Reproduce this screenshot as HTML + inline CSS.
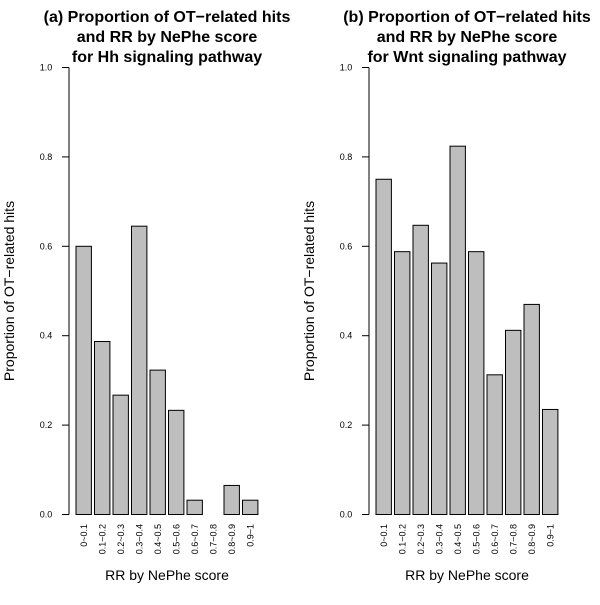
<!DOCTYPE html>
<html><head><meta charset="utf-8"><style>
body{margin:0;background:#fff}
svg{font-family:"Liberation Sans",sans-serif}
</style></head><body>
<svg id="c" width="600" height="600" xmlns="http://www.w3.org/2000/svg"></svg>
<script>
const categories=["0~0.1","0.1~0.2","0.2~0.3","0.3~0.4","0.4~0.5","0.5~0.6","0.6~0.7","0.7~0.8","0.8~0.9","0.9~1"];
const hhValues=[0.6,0.387,0.267,0.645,0.323,0.233,0.032,0,0.065,0.032];
const wntValues=[0.75,0.588,0.647,0.5625,0.824,0.588,0.3125,0.412,0.47,0.235];
const yTicks=["0.0","0.2","0.4","0.6","0.8","1.0"];
const titlesA=["(a) Proportion of OT\u2212related hits","and RR by NePhe score","for Hh signaling pathway"];
const titlesB=["(b) Proportion of OT\u2212related hits","and RR by NePhe score","for Wnt signaling pathway"];
const svg=document.getElementById('c');
const NS="http://www.w3.org/2000/svg";
function mk(t,a,txt){const e=document.createElementNS(NS,t);for(const k in a)e.setAttribute(k,a[k]);if(txt!=null)e.textContent=txt;svg.appendChild(e);return e;}
const y=v=>514.5-v*447;
function panel(axX,vals,titles,id){
  const cx=axX+98;
  titles.forEach((t,i)=>{const e=mk('text',{x:cx,y:22+i*20,'text-anchor':'middle','font-size':16,'font-weight':'bold'},t);
  
  });
  const ax=mk('line',{x1:axX,x2:axX,y1:y(0),y2:y(1),stroke:'#000'});
  
  
  yTicks.forEach(t=>{const v=parseFloat(t);
    const l=mk('line',{x1:axX-7,x2:axX,y1:y(v),y2:y(v),stroke:'#000'});
    
    
    const e=mk('text',{x:axX-23,y:y(v)+3,'text-anchor':'middle','font-size':9},t);
    
    });
  const yt=mk('text',{transform:`translate(${axX-55},${y(0.5)}) rotate(-90)`,'text-anchor':'middle','font-size':14},'Proportion of OT\u2212related hits');
  
  
  vals.forEach((v,i)=>{const bx=axX+7+i*18.5;
    const r=mk('rect',{x:bx,y:y(v),width:15.4,height:Math.max(0,y(0)-y(v)),fill:'#bebebe',stroke:'#000','stroke-width':1});
    
    
    const e=mk('text',{transform:`translate(${bx+11},${524}) rotate(-90)`,'text-anchor':'end','font-size':9},categories[i]);
    
    });
  const xt=mk('text',{x:axX+98,y:580,'text-anchor':'middle','font-size':14},'RR by NePhe score');
  
  
}
panel(69,hhValues,titlesA,'hh');
panel(369,wntValues,titlesB,'wnt');
</script>
</body></html>
